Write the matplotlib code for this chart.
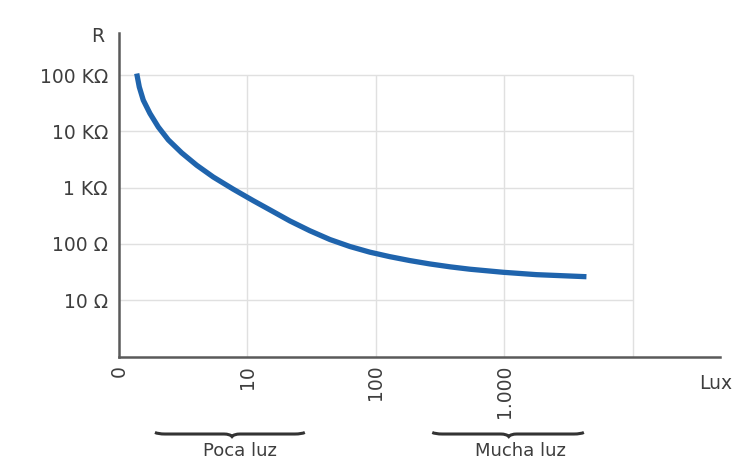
import matplotlib
matplotlib.use("Agg")
import matplotlib.pyplot as plt
from matplotlib.path import Path
from matplotlib.patches import PathPatch
from matplotlib.ticker import NullLocator
import matplotlib.transforms as mtransforms

# curve: lux vs resistance (ohm)
lux = [1.38, 1.58, 1.89, 2.41, 3.06, 3.84, 4.88, 6.05, 7.34, 8.89, 11.1,
       15.0, 21.4, 30.6, 43.9, 62.8, 89.7, 128, 184, 263, 380, 540,
       980, 1780, 4365]
ohm = [107000, 61700, 36000, 20900, 12000, 7080, 4170, 2510, 1550, 944, 589,
       403, 257, 172, 120, 90.2, 71.6, 59.6, 50.7, 44.2, 39.2, 35.6,
       31.4, 28.5, 26.2]

x_ticks = [0, 10, 100, 1000]
x_labels = ['0', '10', '100', '1.000']
x_grid = [10, 100, 1000, 10000]
y_ticks = [10, 100, 1000, 10000, 100000]
y_labels = ['10 Ω', '100 Ω', '1 KΩ', '10 KΩ', '100 KΩ']

zones = ['Poca luz', 'Mucha luz']
zone_lo = [2.8, 275]
zone_hi = [28, 4170]
zone_cusp = [8.8, 1084]
zone_text = [9.4, 1343]

txt = '#3e3e3e'
plt.rcParams['font.family'] = ['DejaVu Sans']

fig = plt.figure(figsize=(7.47, 4.73), dpi=100)
ax = fig.add_axes([119/747, 1 - 356.5/473, (720 - 119)/747, (356.5 - 33)/473])

ax.set_xscale('symlog', linthresh=10, linscale=0.9)
ax.set_yscale('log')
ax.set_xlim(0, 10**4.68)
ax.set_ylim(1, 10**5.75)

# grid
ax.hlines(y_ticks, 0, x_grid[-1], color='#e0e0e0', lw=1, zorder=1)
ax.vlines(x_grid, 1, y_ticks[-1], color='#e0e0e0', lw=1, zorder=1)

ax.plot(lux, ohm, color='#1f64ad', lw=3.8, solid_capstyle='butt',
        solid_joinstyle='round', zorder=3)

for s in ['top', 'right']:
    ax.spines[s].set_visible(False)
for s in ['left', 'bottom']:
    ax.spines[s].set_color('#5a5a5a')
    ax.spines[s].set_linewidth(1.8)

ax.set_xticks(x_ticks)
ax.set_xticklabels(x_labels, rotation=90, va='top')
ax.set_yticks(y_ticks)
ax.set_yticklabels(y_labels)
ax.xaxis.set_minor_locator(NullLocator())
ax.yaxis.set_minor_locator(NullLocator())
ax.tick_params(length=0, labelsize=13.5, colors=txt)
ax.tick_params(axis='x', pad=6)
ax.tick_params(axis='y', pad=8)

ax.text(1.02, -0.082, 'Lux', transform=ax.transAxes, ha='right', va='center',
        fontsize=13.5, color=txt)
ax.text(-0.025, 0.99, 'R', transform=ax.transAxes, ha='right', va='center',
        fontsize=13.5, color=txt)

# curly braces under the axis
tr = mtransforms.blended_transform_factory(ax.transData, ax.transAxes)
inv = ax.transData.inverted()
y0 = -0.2396
h = 0.008


def dx(px):
    return inv.transform((px, 0))[0]


for name, lo, hi, cusp, tx in zip(zones, zone_lo, zone_hi, zone_cusp, zone_text):
    xl = ax.transData.transform((lo, 1))[0]
    xr = ax.transData.transform((hi, 1))[0]
    xm = ax.transData.transform((cusp, 1))[0]
    verts = [(dx(xl), y0 + h * 0.6), (dx(xl + 3), y0), (dx(xl + 10), y0),
             (dx(xm - 8), y0), (dx(xm - 2), y0), (dx(xm), y0 - h),
             (dx(xm + 2), y0), (dx(xm + 8), y0),
             (dx(xr - 10), y0), (dx(xr - 3), y0), (dx(xr), y0 + h * 0.6)]
    codes = [Path.MOVETO, Path.CURVE3, Path.CURVE3,
             Path.LINETO, Path.CURVE3, Path.CURVE3,
             Path.CURVE3, Path.CURVE3,
             Path.LINETO, Path.CURVE3, Path.CURVE3]
    patch = PathPatch(Path(verts, codes), transform=tr, fc='none',
                      ec='#333333', lw=2.2, clip_on=False)
    ax.add_patch(patch)
    ax.text(tx, -0.292, name, transform=tr, ha='center', va='center',
            fontsize=13, color=txt)

fig.savefig('out.png', dpi=100)
